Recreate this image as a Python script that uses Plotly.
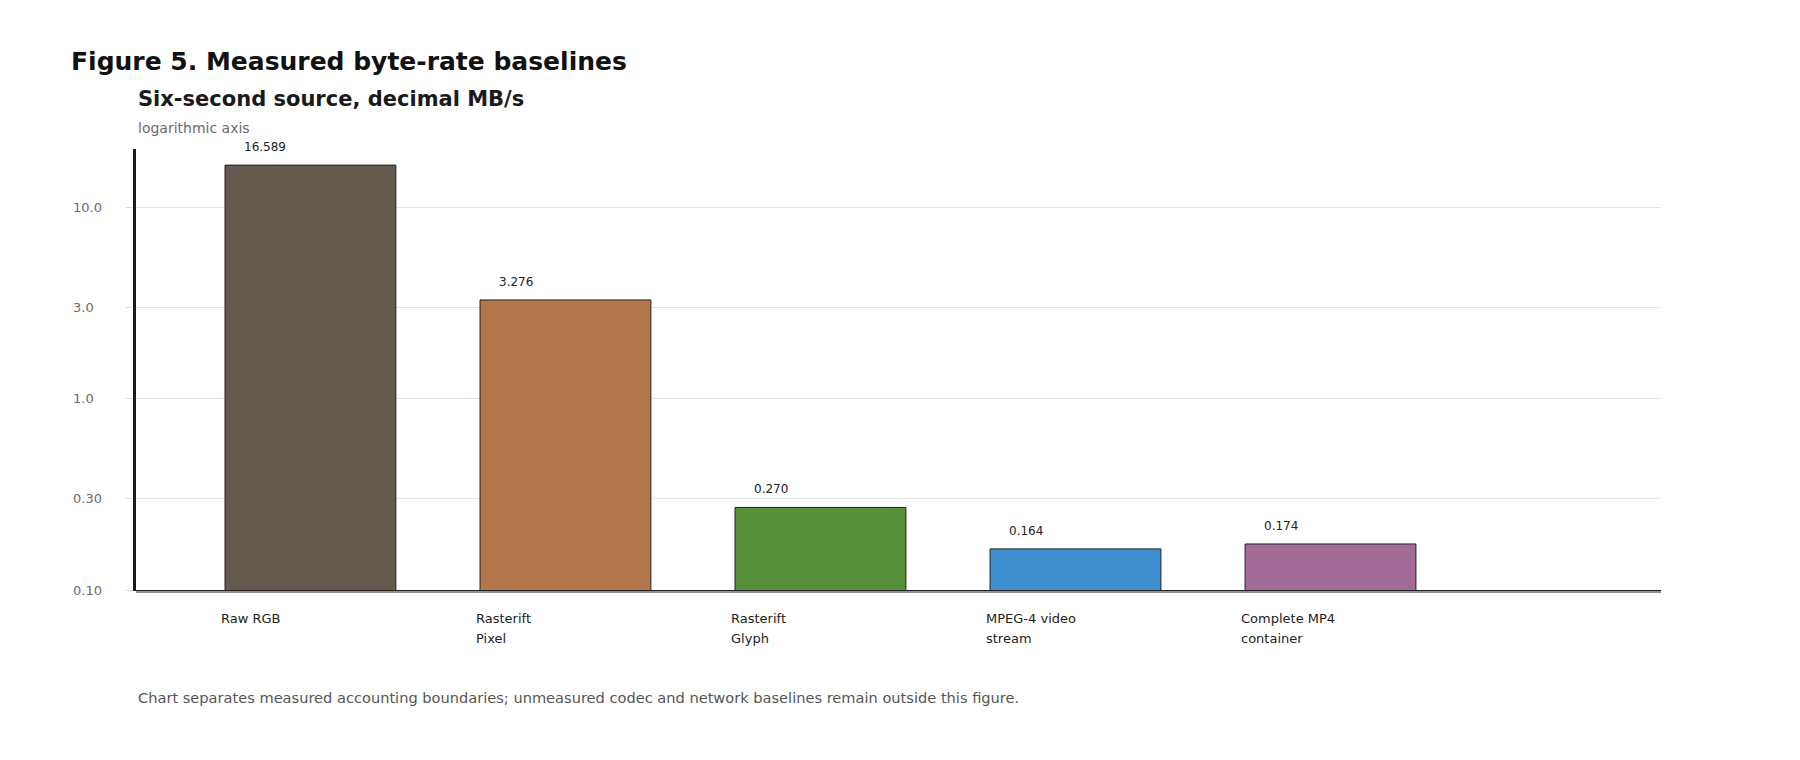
import math
import plotly.graph_objects as go

# data
categories = ["Raw RGB", "Rasterift<br>Pixel", "Rasterift<br>Glyph",
              "MPEG-4 video<br>stream", "Complete MP4<br>container"]
rates_mb_s = [16.589, 3.276, 0.270, 0.164, 0.174]
value_labels = ["16.589", "3.276", "0.270", "0.164", "0.174"]
bar_colors = ["#645a4e", "#b3764a", "#578f3b", "#3f8ecf", "#a06b97"]
tick_values = [0.1, 0.3, 1, 3, 10]
tick_labels = ["0.10", "0.30", "1.0", "3.0", "10.0"]

W, H = 1800, 760
OFF = 8                      # page body margin
L, R, T, B = 136 - OFF, 1661 - OFF, 149 - OFF, 590 - OFF   # plot box
FONT = "DejaVu Sans"


def px_x(x):
    return (x - OFF - L) / (R - L)


def px_y(y):
    return (B - (y - OFF)) / (B - T)


xs = list(range(len(categories)))

fig = go.Figure()
fig.add_trace(go.Bar(
    x=xs, y=rates_mb_s, width=0.67,
    marker=dict(color=bar_colors, line=dict(color="#222222", width=1)),
    hoverinfo="y", showlegend=False,
))

annotations = []
# value labels above bars
for i, (v, lab) in enumerate(zip(rates_mb_s, value_labels)):
    annotations.append(dict(
        x=i - 0.27, y=math.log10(v), xref="x", yref="y", text=lab,
        showarrow=False, xanchor="left", yanchor="bottom", yshift=9,
        font=dict(family=FONT, size=12, color="#222222"),
    ))
# category labels under the axis, one annotation per line
for i, cat in enumerate(categories):
    for k, line in enumerate(cat.split("<br>")):
        annotations.append(dict(
            x=i - 0.357, y=px_y(618 + 20.5 * k), xref="x", yref="paper",
            text=line, showarrow=False, xanchor="left", yanchor="middle",
            font=dict(family=FONT, size=13, color="#222222"),
        ))
# left-aligned tick labels
for tv, tl in zip(tick_values, tick_labels):
    annotations.append(dict(
        x=px_x(71), y=math.log10(tv), xref="paper", yref="y", text=tl,
        showarrow=False, xanchor="left", yanchor="middle",
        font=dict(family=FONT, size=13, color="#6b6b6b"),
    ))

annotations += [
    dict(x=px_x(136), y=px_y(99), xref="paper", yref="paper",
         text="<b>Six-second source, decimal MB/s</b>", showarrow=False,
         xanchor="left", yanchor="middle",
         font=dict(family=FONT, size=21, color="#1a1a1a")),
    dict(x=px_x(136), y=px_y(128), xref="paper", yref="paper",
         text="logarithmic axis", showarrow=False,
         xanchor="left", yanchor="middle",
         font=dict(family=FONT, size=14, color="#6b6b6b")),
    dict(x=px_x(136), y=px_y(697), xref="paper", yref="paper",
         text="Chart separates measured accounting boundaries; unmeasured codec "
              "and network baselines remain outside this figure.",
         showarrow=False, xanchor="left", yanchor="middle",
         font=dict(family=FONT, size=14.6, color="#555555")),
]

fig.update_layout(
    width=W, height=H,
    margin=dict(l=L, r=W - R, t=T, b=H - B, pad=0),
    paper_bgcolor="white", plot_bgcolor="white",
    title=dict(text="<b>Figure 5. Measured byte-rate baselines</b>",
               x=(71 - OFF) / W, xref="container", xanchor="left",
               y=1 - (61 - OFF) / H, yref="container", yanchor="middle",
               font=dict(family=FONT, size=25, color="#111111")),
    font=dict(family=FONT),
    annotations=annotations,
    # second thin rule just under the x axis line
    shapes=[dict(type="line", xref="paper", yref="paper",
                 x0=0, x1=1, y0=-2, y1=-2, ysizemode="pixel", yanchor=0,
                 line=dict(color="#222222", width=1))],
)

fig.update_xaxes(
    range=[-0.684, 5.296], showticklabels=False, ticks="",
    showgrid=False, zeroline=False,
    showline=True, linecolor="#222222", linewidth=1,
)
fig.update_yaxes(
    type="log", range=[-1, 1.304],
    tickvals=tick_values, showticklabels=False,
    ticks="outside", ticklen=7, tickcolor="#dddddd",
    showgrid=True, gridcolor="#e3e3e3", gridwidth=1,
    zeroline=False,
    showline=True, linecolor="#1a1a1a", linewidth=3,
)

fig.write_html("out.html")
